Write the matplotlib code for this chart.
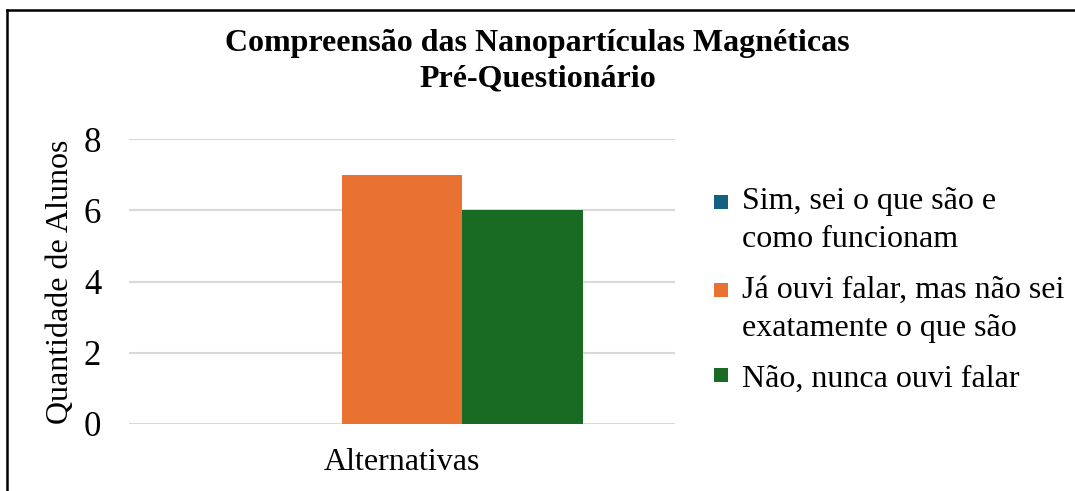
import matplotlib
matplotlib.use("Agg")
import matplotlib.pyplot as plt
from matplotlib.patches import Rectangle
from matplotlib.lines import Line2D
from matplotlib.legend_handler import HandlerPatch

categories = ["Alternativas"]
series_labels = ["Sim, sei o que são e\ncomo funcionam",
                 "Já ouvi falar, mas não sei\nexatamente o que são",
                 "Não, nunca ouvi falar"]
series_values = [0, 7, 6]
series_colors = ["#156082", "#E97132", "#196B24"]
yticks = [0, 2, 4, 6, 8]

plt.rcParams["font.family"] = ["Liberation Serif", "DejaVu Serif"]

W, H = 1075, 491
fig = plt.figure(figsize=(W / 100, H / 100), dpi=100)
ax = fig.add_axes([129 / W, 67 / H, (675 - 129) / W, (424 - 139) / H])

bw = 0.221
handles = []
for i, (lab, val, col) in enumerate(zip(series_labels, series_values, series_colors)):
    b = ax.bar([0 + (i - 1) * bw], [val], width=bw, color=col, label=lab, zorder=3)
    handles.append(b.patches[0])

ax.set_xlim(-0.5, 0.5)
ax.set_ylim(0, 8)
ax.set_yticks(yticks)
ax.set_xticks([0])
ax.set_xticklabels(categories)
ax.grid(axis="y", color="#d9d9d9", linewidth=1.5, zorder=0)
for s in ax.spines.values():
    s.set_visible(False)
ax.tick_params(axis="y", length=0, pad=20, labelsize=25)
ax.tick_params(axis="x", length=0, pad=17, labelsize=23)
ax.set_ylabel("Quantidade de Alunos", fontsize=23, labelpad=6)

fs = 23
line_px = 37.0
shift_pt = 0.5 * line_px * 72 / 100


def make_handler(shift):
    def patch_func(legend, orig_handle, xdescent, ydescent, width, height, fontsize):
        s = 10.0
        return Rectangle((-xdescent + (width - s) / 2, -ydescent + (height - s) / 2 + shift), s, s)
    return HandlerPatch(patch_func=patch_func)


hmap = {}
for h, lab in zip(handles, series_labels):
    nl = lab.count("\n") + 1
    hmap[h] = make_handler(shift_pt * (nl - 1))

leg = ax.legend(handles=handles, labels=series_labels, handler_map=hmap,
                loc="upper left", bbox_to_anchor=(713 / W, (491 - 187) / H),
                bbox_transform=fig.transFigure, frameon=False, fontsize=fs,
                handlelength=0.5, handleheight=0.5, handletextpad=0.4,
                labelspacing=0.69, borderaxespad=0, borderpad=0)
for t in leg.get_texts():
    t.set_linespacing(1.4)

fig.text(0.5, (491 - 43) / H, "Compreensão das Nanopartículas Magnéticas",
         ha="center", va="center", fontsize=23, fontweight="bold")
fig.text(0.5, (491 - 79) / H, "Pré-Questionário",
         ha="center", va="center", fontsize=23, fontweight="bold")

fig.add_artist(Line2D([7 / W, 1], [1 - 10 / H, 1 - 10 / H], transform=fig.transFigure,
                      color="black", linewidth=1.8))
fig.add_artist(Line2D([7 / W, 7 / W], [0, 1 - 10 / H], transform=fig.transFigure,
                      color="black", linewidth=1.8))

fig.savefig("out.png", dpi=100)
